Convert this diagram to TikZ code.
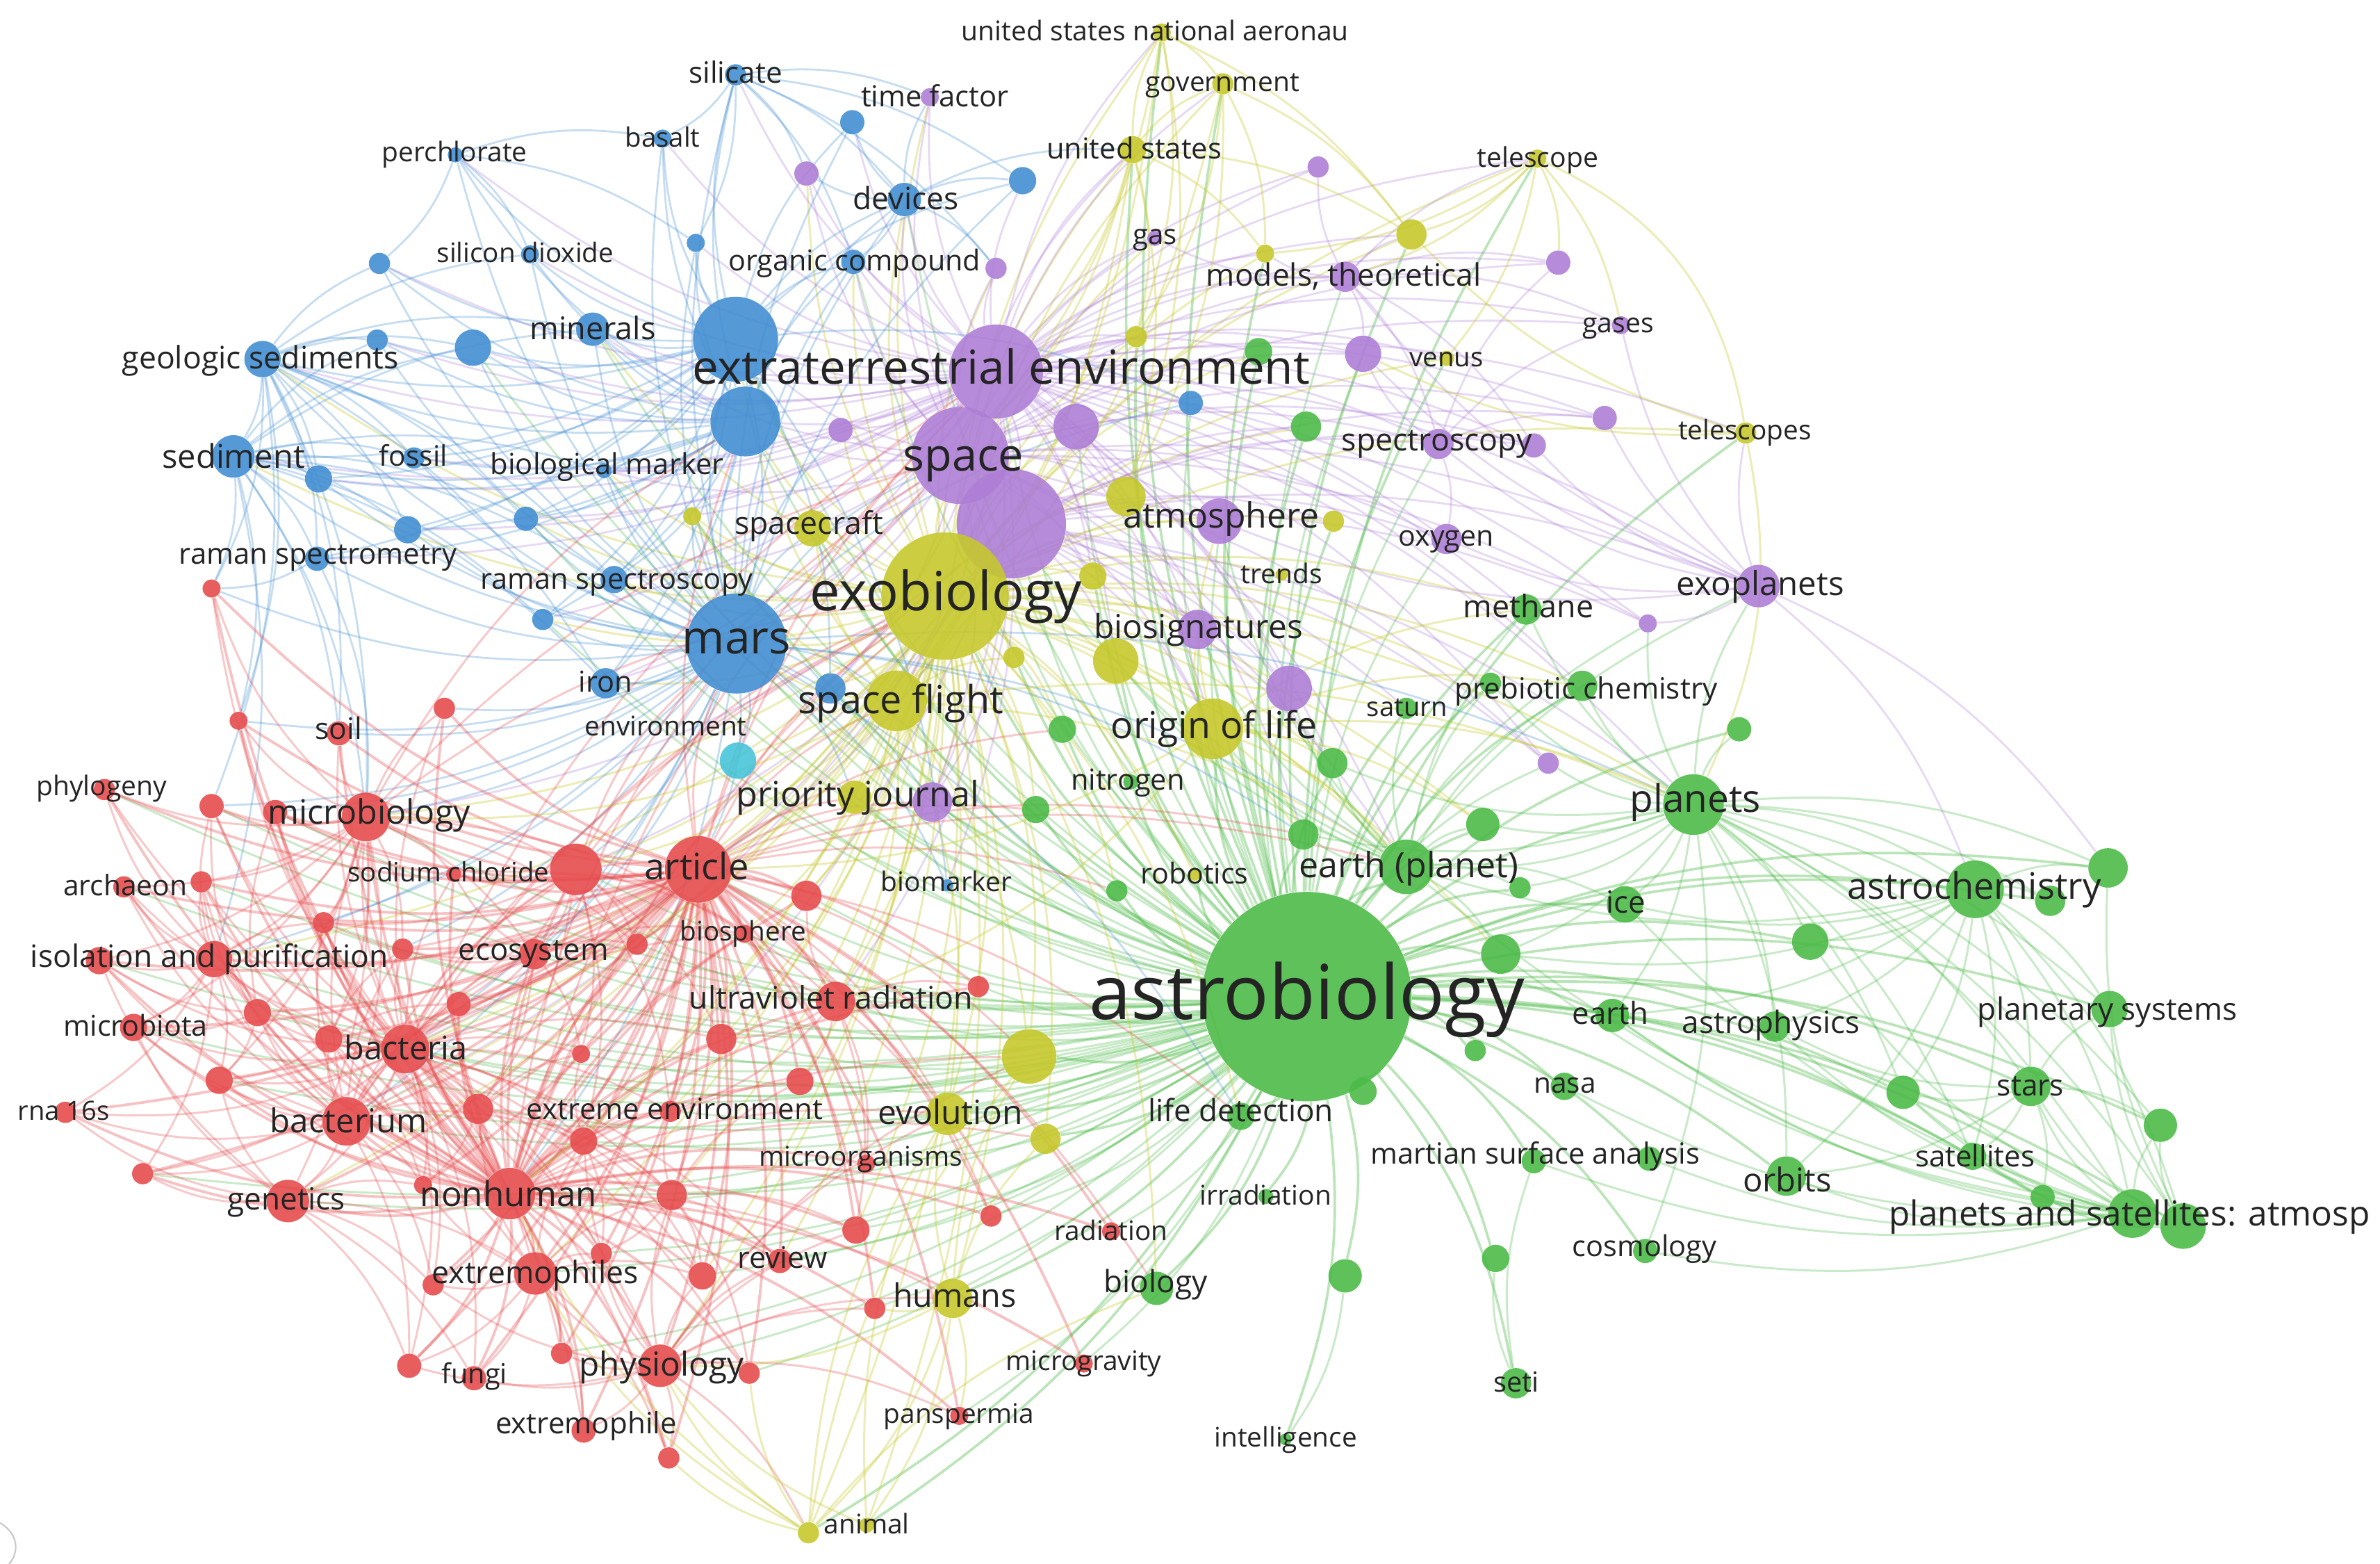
\documentclass[tikz,border=0pt]{standalone}
\usepackage{graphicx}
\usepackage{fontspec}
\setmainfont{Open Sans}
\pgfdeclarelayer{bg}
\pgfsetlayers{bg,main}
\definecolor{cR}{RGB}{230,76,78}
\definecolor{cG}{RGB}{76,186,72}
\definecolor{cB}{RGB}{66,142,210}
\definecolor{cY}{RGB}{198,200,44}
\definecolor{cP}{RGB}{174,126,214}
\definecolor{cC}{RGB}{72,196,216}
\definecolor{labc}{RGB}{36,36,36}
\tikzset{
 kw/.style={circle, inner sep=0pt, draw=none, fill opacity=0.9},
 lbl/.style={inner sep=0pt, anchor=center, text=labc},
 cv/.style={bend left=14},
 eR/.style={draw=cR, line width=0.85pt, draw opacity=0.3},
 eRh/.style={draw=cR, line width=1.1pt, draw opacity=0.34},
 eG/.style={draw=cG, line width=0.85pt, draw opacity=0.3},
 eGh/.style={draw=cG, line width=1.05pt, draw opacity=0.38},
 eB/.style={draw=cB, line width=0.8pt, draw opacity=0.3},
 eY/.style={draw=cY, line width=0.85pt, draw opacity=0.34},
 eP/.style={draw=cP, line width=0.8pt, draw opacity=0.3},
}
\newlength\pxu
\setlength\pxu{0.0218431cm}
\newcommand\kn[5]{\node[kw, fill=#5, minimum size=#4*0.0436862cm] (#1) at (#2,#3) {};}
\newcommand\lab[5]{\node[lbl] (#1) at (#2,#3) {\resizebox{#4\pxu}{!}{\rule[-0.15em]{0pt}{0.95em}#5}};}
\begin{document}
\begin{tikzpicture}[x=0.0218431cm, y=-0.0218431cm]
\useasboundingbox (0,0) rectangle (1568,1030);
% ---------------- blue
\kn{b1}{484.6}{49.3}{7}{cB}
\kn{b2}{561.5}{80.5}{8}{cB}
\kn{b3}{436.5}{91.3}{6}{cB}
\kn{b4}{300}{102}{5}{cB}
\kn{b5}{458.4}{160}{6}{cB}
\kn{b6}{250}{173.5}{7}{cB}
\kn{b7}{349.2}{167.5}{6}{cB}
\kn{b8}{248.5}{224}{7}{cB}
\kn{b9}{173}{236.5}{12}{cB}
\kn{b10}{311.6}{229}{12}{cB}
\kn{b11}{390.5}{216.8}{11}{cB}
\kn{b12}{484.6}{223.4}{28}{cB}
\kn{b13}{491}{277.6}{23}{cB}
\kn{b14}{153.8}{300.6}{14}{cB}
\kn{b15}{209.9}{315.4}{9}{cB}
\kn{b16}{272.7}{301.6}{7}{cB}
\kn{b17}{398}{310}{5}{cB}
\kn{b18}{268.6}{348.9}{9}{cB}
\kn{b19}{346.5}{341.7}{8}{cB}
\kn{b20}{208.9}{368}{8}{cB}
\kn{b21}{404.6}{381.7}{9}{cB}
\kn{b22}{357.6}{408}{7}{cB}
\kn{b23}{485.2}{423.8}{33}{cB}
\kn{b24}{399}{450}{10}{cB}
\kn{b25}{595.8}{131.4}{11}{cB}
\kn{b26}{673.7}{119}{9}{cB}
\kn{b27}{562.2}{172.5}{8}{cB}
\kn{b28}{784.5}{265.4}{8}{cB}
\kn{b29}{547.1}{453.4}{10}{cB}
\kn{b30}{624}{583}{4}{cB}
\kn{c1}{486.2}{501}{12}{cC}
% ---------------- purple
\kn{p1}{612.6}{64}{6}{cP}
\kn{p2}{531.3}{114.3}{8}{cP}
\kn{p3}{760.8}{157}{5}{cP}
\kn{p4}{868.4}{110}{7}{cP}
\kn{p5}{656.2}{176.7}{7}{cP}
\kn{p6}{886.2}{182.3}{10}{cP}
\kn{p7}{1026.6}{173}{8}{cP}
\kn{p8}{898}{233}{12}{cP}
\kn{p9}{1067.9}{214.2}{6}{cP}
\kn{p10}{656.2}{244.7}{31}{cP}
\kn{p11}{553.8}{283.2}{8}{cP}
\kn{p12}{709}{281}{15}{cP}
\kn{p13}{632.7}{300}{32}{cP}
\kn{p14}{666.3}{345}{36}{cP}
\kn{p15}{947.7}{292.4}{10}{cP}
\kn{p16}{1010.5}{293.4}{8}{cP}
\kn{p17}{1057.2}{275.3}{8}{cP}
\kn{p18}{803.3}{343.3}{15}{cP}
\kn{p19}{953}{355}{10}{cP}
\kn{p20}{1158.5}{386}{14}{cP}
\kn{p21}{1085.6}{410.6}{6}{cP}
\kn{p22}{788.9}{414.6}{13}{cP}
\kn{p23}{849.3}{453.4}{15}{cP}
\kn{p24}{1020}{502.6}{7}{cP}
\kn{p25}{614.2}{528.2}{13}{cP}
% ---------------- yellow
\kn{y1}{765.4}{21.4}{6}{cY}
\kn{y2}{805.6}{55.2}{7}{cY}
\kn{y3}{746.2}{98.6}{9}{cY}
\kn{y4}{1012.8}{104.5}{6}{cY}
\kn{y5}{833.5}{167}{6}{cY}
\kn{y6}{929.9}{154.4}{10}{cY}
\kn{y7}{748.6}{221.7}{7}{cY}
\kn{y8}{953}{236}{5}{cY}
\kn{y9}{1150.1}{285.2}{7}{cY}
\kn{y10}{535.3}{348}{12}{cY}
\kn{y11}{456}{340}{6}{cY}
\kn{y12}{741.8}{326.9}{13}{cY}
\kn{y13}{878.5}{343.3}{7}{cY}
\kn{y14}{844.3}{378.5}{4}{cY}
\kn{y15}{622.6}{392.6}{42}{cY}
\kn{y16}{720}{379.4}{9}{cY}
\kn{y17}{668}{433}{7}{cY}
\kn{y18}{735.1}{435.3}{15}{cY}
\kn{y19}{590.7}{461.6}{20}{cY}
\kn{y20}{799}{480}{20}{cY}
\kn{y21}{563}{525}{11}{cY}
\kn{y22}{678}{695.8}{18}{cY}
\kn{y23}{624.3}{733.6}{14}{cY}
\kn{y24}{688.8}{750}{10}{cY}
\kn{y25}{627.7}{855.1}{13}{cY}
\kn{y26}{532.6}{1009.5}{7}{cY}
\kn{y27}{571}{1004.5}{5}{cY}
\kn{y28}{787}{576}{4}{cY}
% ---------------- green
\kn{g1}{861}{656.4}{69}{cG}
\kn{g2}{926.5}{570.9}{18}{cG}
\kn{g3}{1001.4}{584.7}{7}{cG}
\kn{g4}{1005.5}{401.4}{10}{cG}
\kn{g5}{982}{450}{7}{cG}
\kn{g6}{1042.4}{451.7}{10}{cG}
\kn{g7}{926.5}{466.5}{7}{cG}
\kn{g8}{699.9}{480.3}{9}{cG}
\kn{g9}{877.8}{502.6}{10}{cG}
\kn{g10}{682.4}{533.2}{9}{cG}
\kn{g11}{858.7}{549.6}{10}{cG}
\kn{g12}{976.9}{543}{11}{cG}
\kn{g13}{735.8}{586.7}{7}{cG}
\kn{g14}{988.7}{628.4}{13}{cG}
\kn{g15}{971.9}{691.9}{7}{cG}
\kn{g16}{817.4}{735.2}{9}{cG}
\kn{g17}{898}{718.8}{9}{cG}
\kn{g18}{1030.6}{715.5}{9}{cG}
\kn{g19}{1010.5}{764.8}{8}{cG}
\kn{g20}{834}{788}{5}{cG}
\kn{g21}{985.3}{828.8}{9}{cG}
\kn{g22}{886.2}{840.3}{11}{cG}
\kn{g23}{762}{848.5}{11}{cG}
\kn{g24}{998.7}{911}{10}{cG}
\kn{g25}{847}{948}{4}{cG}
\kn{g26}{1115.7}{529.9}{20}{cG}
\kn{g27}{1145.8}{480.3}{8}{cG}
\kn{g28}{1301.2}{585.7}{19}{cG}
\kn{g29}{1350.7}{593.3}{10}{cG}
\kn{g30}{1388.8}{571.6}{13}{cG}
\kn{g31}{1070.5}{595.6}{12}{cG}
\kn{g32}{1192.6}{620.2}{12}{cG}
\kn{g33}{1062.2}{668.8}{11}{cG}
\kn{g34}{1169.2}{676.1}{10}{cG}
\kn{g35}{1389.8}{664.6}{12}{cG}
\kn{g36}{1253.8}{719.4}{11}{cG}
\kn{g37}{1338}{715.5}{13}{cG}
\kn{g38}{1423.3}{741.1}{11}{cG}
\kn{g39}{1086.6}{763.1}{8}{cG}
\kn{g40}{1176.9}{774.6}{13}{cG}
\kn{g41}{1299.6}{761.5}{9}{cG}
\kn{g42}{1345.7}{788.4}{8}{cG}
\kn{g43}{1404.9}{799.3}{16}{cG}
\kn{g44}{1438.3}{807.5}{15}{cG}
\kn{g45}{1083.9}{823.9}{8}{cG}
\kn{g46}{829.2}{231.6}{9}{cG}
\kn{g47}{860.4}{281}{10}{cG}
\kn{g48}{745}{515}{5}{cG}
% ---------------- red
\kn{r1}{68.8}{520}{7}{cR}
\kn{r2}{139.4}{530.9}{8}{cR}
\kn{r3}{181.3}{534.8}{8}{cR}
\kn{r4}{241.1}{538.1}{16}{cR}
\kn{r5}{81.6}{584.1}{7}{cR}
\kn{r6}{132.6}{580.8}{7}{cR}
\kn{r7}{298.9}{575.9}{5}{cR}
\kn{r8}{379.4}{572.6}{17}{cR}
\kn{r9}{460}{572.6}{22}{cR}
\kn{r10}{213.2}{607.7}{7}{cR}
\kn{r11}{419.7}{621.9}{7}{cR}
\kn{r12}{490.3}{615}{6}{cR}
\kn{r13}{65.5}{632.7}{9}{cR}
\kn{r14}{141}{631.7}{12}{cR}
\kn{r15}{265.3}{625.1}{7}{cR}
\kn{r16}{351.9}{628.4}{10}{cR}
\kn{r17}{302.2}{661.3}{8}{cR}
\kn{r18}{169.6}{666.9}{9}{cR}
\kn{r19}{88}{676.7}{9}{cR}
\kn{r20}{216.6}{684.3}{9}{cR}
\kn{r21}{267}{690.9}{16}{cR}
\kn{r22}{382.8}{694.1}{6}{cR}
\kn{r23}{475.2}{684.3}{10}{cR}
\kn{r24}{144.4}{711.5}{9}{cR}
\kn{r25}{43}{732.6}{7}{cR}
\kn{r26}{228.3}{738.5}{16}{cR}
\kn{r27}{315}{730.3}{10}{cR}
\kn{r28}{441.6}{731.9}{7}{cR}
\kn{r29}{384.5}{751.6}{9}{cR}
\kn{r30}{94}{773}{7}{cR}
\kn{r31}{189.7}{791}{14}{cR}
\kn{r32}{335.8}{786.1}{17}{cR}
\kn{r33}{278.7}{780.5}{6}{cR}
\kn{r34}{442.6}{787.1}{10}{cR}
\kn{r35}{396.2}{825.5}{7}{cR}
\kn{r36}{352.6}{838.7}{14}{cR}
\kn{r37}{285.4}{846.2}{7}{cR}
\kn{r38}{462.7}{840.3}{9}{cR}
\kn{r39}{513.8}{830.5}{8}{cR}
\kn{r40}{269.6}{899.5}{8}{cR}
\kn{r41}{312.3}{907.7}{8}{cR}
\kn{r42}{370}{891.3}{7}{cR}
\kn{r43}{434.9}{899.5}{14}{cR}
\kn{r44}{493.6}{904.4}{7}{cR}
\kn{r45}{384.5}{942.2}{8}{cR}
\kn{r46}{440.6}{960.2}{7}{cR}
\kn{r47}{139.4}{387.6}{6}{cR}
\kn{r48}{292.8}{466.5}{7}{cR}
\kn{r49}{157.2}{474.7}{6}{cR}
\kn{r50}{223.3}{483}{8}{cR}
\kn{r51}{531.3}{590}{10}{cR}
\kn{r52}{644.5}{649.8}{7}{cR}
\kn{r53}{550.4}{659.6}{13}{cR}
\kn{r54}{527}{712.2}{9}{cR}
\kn{r55}{570.6}{766.4}{6}{cR}
\kn{r56}{652.9}{800.9}{7}{cR}
\kn{r57}{563.9}{810.1}{9}{cR}
\kn{r58}{732}{811}{6}{cR}
\kn{r59}{576.3}{861.7}{7}{cR}
\kn{r60}{714}{898}{6}{cR}
\kn{r61}{632}{932.5}{6}{cR}
% ---------------- edges
\begin{pgfonlayer}{bg}
% astrobiology
\foreach \i in {2,...,48} \draw[eGh] (g1) to[cv] (g\i);
\foreach \i in {1,...,28} \draw[eGh] (g1) to[cv] (y\i);
\foreach \i in {1,2,3,4,5,6,8,9,10,11,12,13,14,16,17,18,19,20,21,22,23,24,26,27,28,29,30,31,32,34,35,36,38,39,42,43,44,51,52,53,54,55,56,57,58,59,60,61} \draw[eG] (g1) to[cv] (r\i);
\foreach \i in {6,8,10,12,13,14,15,18,19,20,21,22,23,24,25} \draw[eG] (g1) to[cv] (p\i);
\foreach \i in {10,11,12,13,17,19,21,22,23,24,25,27,28,29,30} \draw[eG] (g1) to[cv] (b\i);
\draw[eG] (g1) to[cv] (c1);
% exobiology
\foreach \i in {1,...,14} \draw[eY] (y15) to[cv] (y\i);
\foreach \i in {16,...,28} \draw[eY] (y15) to[cv] (y\i);
\foreach \i in {4,8,9,11,12,14,16,21,23,26,28,31,32,34,36,38,39,43,51,53,54,57} \draw[eY] (y15) to[cv] (r\i);
\foreach \i in {2,4,5,6,7,8,9,10,11,12,13,14,16,23,26,46,47,48} \draw[eY] (y15) to[cv] (g\i);
\foreach \i in {1,2,3,5,10,11,12,13,14,18,22,23,25} \draw[eY] (y15) to[cv] (p\i);
\foreach \i in {9,11,12,13,14,17,19,21,22,23,24,25,27,29} \draw[eY] (y15) to[cv] (b\i);
\draw[eY] (y15) to[cv] (c1);
% extraterrestrial environment / space
\foreach \i in {1,...,9} \draw[eP] (p10) to[cv] (p\i);
\foreach \i in {11,...,25} \draw[eP] (p10) to[cv] (p\i);
\foreach \i in {1,...,30} \draw[eP] (p10) to[cv] (b\i);
\foreach \i in {1,2,3,4,5,6,7,8,9,10,11,12,16,18,19,20} \draw[eP] (p10) to[cv] (y\i);
\foreach \i in {2,4,6,9,11,26,46,47} \draw[eP] (p10) to[cv] (g\i);
\foreach \i in {1,...,12} \draw[eP] (p13) to[cv] (p\i);
\foreach \i in {14,...,25} \draw[eP] (p13) to[cv] (p\i);
\foreach \i in {11,12,13,17,21,23,24,25,27,29} \draw[eP] (p13) to[cv] (b\i);
\foreach \i in {3,7,10,12,16,19,20} \draw[eP] (p13) to[cv] (y\i);
\foreach \i in {15,...,25} \draw[eP] (p14) to[cv] (p\i);
\foreach \i in {12,13,16,18,20} \draw[eP] (p14) to[cv] (y\i);
\foreach \i in {2,7,9,26,47} \draw[eP] (p14) to[cv] (g\i);
\foreach \i in {4,8,9,21,26,32,53} \draw[eP] (p14) to[cv] (r\i);
\foreach \i in {15,16,17,19,21,9,8,18,6} \draw[eP] (p20) to[cv] (p\i);
\foreach \i in {28,30} \draw[eP] (p20) to[cv] (g\i);
\draw[eP] (p20) to[cv] (y9);
\foreach \i in {3,4,7,8,9,15,16} \draw[eP] (p6) to[cv] (p\i);
\foreach \i in {4,5,6} \draw[eP] (p6) to[cv] (y\i);
\foreach \i in {16,17,19,9,7,8} \draw[eP] (p15) to[cv] (p\i);
% mars and blue
\foreach \i in {1,...,22} \draw[eB] (b23) to[cv] (b\i);
\foreach \i in {24,...,30} \draw[eB] (b23) to[cv] (b\i);
\draw[eB] (b23) to[cv] (c1);
\foreach \i in {2,3,4,8,9,10,14,15,16,21,26,32,47,48,49,50} \draw[eB] (b23) to[cv] (r\i);
\foreach \i in {10,11,19,21} \draw[eB] (b23) to[cv] (y\i);
\foreach \i in {11,13,25} \draw[eB] (b23) to[cv] (p\i);
\foreach \i in {2,11,16,26} \draw[eB] (b23) to[cv] (g\i);
\foreach \i in {1,...,11} \draw[eB] (b12) to[cv] (b\i);
\foreach \i in {13,...,30} \draw[eB] (b12) to[cv] (b\i);
\foreach \i in {1,3,4,5,6,7,8,9,10,11,14,15,16,17,18,19,20,21,22,24,25,27} \draw[eB] (b13) to[cv] (b\i);
\foreach \i in {6,7,8,10,11,14,15,16,18,19,20,21,24} \draw[eB] (b9) to[cv] (b\i);
\foreach \i in {2,4,47,49,50} \draw[eB] (b9) to[cv] (r\i);
\foreach \i in {8,10,11,15,16,17,18,19,20,21,22,24} \draw[eB] (b14) to[cv] (b\i);
\foreach \i in {4,14,47,49,50} \draw[eB] (b14) to[cv] (r\i);
\foreach \i in {4,47} \draw[eB] (b20) to[cv] (r\i);
\foreach \i in {3,5,25,26,27} \draw[eB] (b1) to[cv] (b\i);
\foreach \i in {1,2,5} \draw[eB] (b1) to[cv] (p\i);
\foreach \i in {3,5,6,7} \draw[eB] (b4) to[cv] (b\i);
\foreach \i in {2,26,27} \draw[eB] (b25) to[cv] (b\i);
\foreach \i in {1,2,5} \draw[eB] (b25) to[cv] (p\i);
\draw[eB] (b25) to[cv] (y3);
% red
\foreach \i in {1,...,8,10,11,...,61} \draw[eRh] (r9) to[cv] (r\i);
\foreach \i in {1,...,31,33,34,...,61} \draw[eRh] (r32) to[cv] (r\i);
\foreach \i in {1,...,20,22,23,...,50} \draw[eR] (r21) to[cv] (r\i);
\foreach \i in {1,2,3,5,6,7,8,10,11,12,13,14,15,16,18,19,20,24,26,31,47,48,49,50} \draw[eR] (r4) to[cv] (r\i);
\foreach \i in {4,5,6,8,10,13,14,15,16,17,18,19,20,24,25,27,29,30,31,33,36,37,40} \draw[eR] (r26) to[cv] (r\i);
\foreach \i in {3,7,10,11,12,15,16,17,22,23,27,28,29,51,53} \draw[eR] (r8) to[cv] (r\i);
\foreach \i in {1,2,5,6,10,13,18,19,24,25,30} \draw[eR] (r14) to[cv] (r\i);
\foreach \i in {13,19,24,25,30,33,36,37,40,41} \draw[eR] (r31) to[cv] (r\i);
\foreach \i in {29,34,35,36,37,38,39,40,41,42,44,45,46,57,59,61} \draw[eR] (r43) to[cv] (r\i);
\foreach \i in {27,29,33,34,35,37,38,40,41,42,45,46} \draw[eR] (r36) to[cv] (r\i);
\foreach \i in {12,23,28,51,52,54,55,56,57} \draw[eR] (r53) to[cv] (r\i);
\foreach \i in {7,10,11,12,15,17,22,27} \draw[eR] (r16) to[cv] (r\i);
\foreach \i in {2,3,6,13,19,20,24} \draw[eR] (r18) to[cv] (r\i);
\foreach \i in {10,15,17,24,27,33} \draw[eR] (r20) to[cv] (r\i);
\foreach \i in {17,22,29,33,34} \draw[eR] (r27) to[cv] (r\i);
\foreach \i in {22,28,34,35,38} \draw[eR] (r29) to[cv] (r\i);
\foreach \i in {28,35,38,39,44,54,57} \draw[eR] (r34) to[cv] (r\i);
\foreach \i in {15,19,21,22,23} \draw[eR] (r9) to[cv] (y\i);
\foreach \i in {13,23} \draw[eR] (r9) to[cv] (b\i);
\foreach \i in {10,13,25} \draw[eR] (r9) to[cv] (p\i);
\foreach \i in {2,8,10,11,13,16,23} \draw[eR] (r9) to[cv] (g\i);
\foreach \i in {15,22,23,24,25} \draw[eR] (r32) to[cv] (y\i);
\draw[eR] (r32) to[cv] (p10);
\draw[eR] (r32) to[cv] (p14);
\draw[eR] (r32) to[cv] (b23);
\draw[eR] (r21) to[cv] (y15);
\draw[eR] (r21) to[cv] (p10);
\draw[eR] (r4) to[cv] (y15);
\draw[eR] (r4) to[cv] (b13);
\draw[eR] (r4) to[cv] (p13);
\draw[eR] (r8) to[cv] (y15);
\draw[eR] (r8) to[cv] (b23);
\draw[eR] (r8) to[cv] (p13);
\draw[eR] (r26) to[cv] (y15);
\foreach \i in {22,23,25,26} \draw[eR] (r43) to[cv] (y\i);
% yellow local
\foreach \i in {1,2,5,6,7,12,19} \draw[eY] (y3) to[cv] (y\i);
\foreach \i in {10,13} \draw[eY] (y3) to[cv] (p\i);
\foreach \i in {2,6,7,12,19} \draw[eY] (y1) to[cv] (y\i);
\draw[eY] (y1) to[cv] (p13);
\foreach \i in {5,6,7,12,19} \draw[eY] (y2) to[cv] (y\i);
\foreach \i in {5,6,8} \draw[eY] (y4) to[cv] (y\i);
\foreach \i in {6,7,9} \draw[eY] (y4) to[cv] (p\i);
\draw[eY] (y4) to[bend left=28] (y9);
\draw[eY] (y9) to[bend left=18] (g26);
\draw[eY] (y9) to[cv] (y6);
\draw[eY] (y9) to[cv] (p8);
\foreach \i in {22,23,24,26,27} \draw[eY] (y25) to[cv] (y\i);
\foreach \i in {43,59,61} \draw[eY] (y25) to[cv] (r\i);
\foreach \i in {22,23} \draw[eY] (y26) to[cv] (y\i);
\foreach \i in {32,36,43,44,46} \draw[eY] (y26) to[cv] (r\i);
\draw[eY] (y26) to[cv] (g23);
\draw[eY] (y27) to[cv] (y23);
\draw[eY] (y27) to[cv] (r43);
\foreach \i in {10,11,17,21,22,23} \draw[eY] (y19) to[cv] (y\i);
\foreach \i in {4,8,9,21,32,51,53} \draw[eY] (y19) to[cv] (r\i);
\foreach \i in {12,23} \draw[eY] (y19) to[cv] (b\i);
\foreach \i in {2,26} \draw[eY] (y19) to[cv] (g\i);
\foreach \i in {2,4,6,9,11,12,26} \draw[eY] (y20) to[cv] (g\i);
\foreach \i in {9,53} \draw[eY] (y20) to[cv] (r\i);
\foreach \i in {18,22} \draw[eY] (y20) to[cv] (p\i);
% green local
\foreach \i in {2,3,4,5,6,9,11,12,14,27,28,29,30,31,32,33,34,35,36,37,38,40,41,43,44,45} \draw[eG] (g26) to[cv] (g\i);
\foreach \i in {20,21,24} \draw[eG] (g26) to[cv] (p\i);
\foreach \i in {2,14,29,30,31,32,33,34,35,36,37,40,41,43,44} \draw[eG] (g28) to[cv] (g\i);
\foreach \i in {2,14,18,19,31,32,33,34,36,37,38,39,40,41,42,45} \draw[eG] (g43) to[cv] (g\i);
\foreach \i in {30,33,35,36,37,38,41,42} \draw[eG] (g44) to[cv] (g\i);
\foreach \i in {34,35,36,38,40,41,42} \draw[eG] (g37) to[cv] (g\i);
\foreach \i in {3,4,5,6,7,9,11,12,14,31} \draw[eG] (g2) to[cv] (g\i);
\foreach \i in {14,18,22,23} \draw[eG] (g2) to[cv] (p\i);
\foreach \i in {18,20} \draw[eG] (g2) to[cv] (y\i);
\draw[eG] (g24) to[cv] (g21);
\draw[eG] (g24) to[cv] (g19);
\draw[eG] (g22) to[cv] (g25);
\end{pgfonlayer}
% faint arc in the lower left corner
\draw[black!22, line width=0.6pt] (0,1003) .. controls (12,1010) and (13,1022) .. (6,1030);
% ---------------- labels
\lab{Lsilicate}{484.6}{48.5}{61.5}{silicate}
\lab{Ltime}{616}{64}{97.4}{time factor}
\lab{Lbasalt}{436.5}{91}{49.4}{basalt}
\lab{Lperch}{299.5}{101.5}{95.7}{perchlorate}
\lab{Ldevices}{596.8}{131.4}{69.5}{devices}
\lab{Lsio}{346.1}{167}{116.5}{silicon dioxide}
\lab{Lorg}{563}{173}{166}{organic compound}
\lab{Lmin}{390.5}{217}{83}{minerals}
\lab{Lgeo}{171.6}{237}{182.3}{geologic sediments}
\lab{Lee}{659.5}{243}{407}{extraterrestrial environment}
\lab{Lsed}{153.8}{301.5}{94}{sediment}
\lab{Lfossil}{272.3}{301}{44.7}{fossil}
\lab{Lbm}{400}{307}{153.8}{biological marker}
\lab{Lrsm}{209.5}{366}{183}{raman spectrometry}
\lab{Lrsc}{406.3}{382.5}{179.6}{raman spectroscopy}
\lab{Lmars}{485.3}{421}{71.5}{mars}
\lab{Liron}{399}{449.5}{35.3}{iron}
\lab{Lenv}{438.6}{479}{106.8}{environment}
\lab{Lbiomk}{623.6}{581.5}{86.3}{biomarker}
\lab{Lgas}{760.8}{156}{29}{gas}
\lab{Lmodels}{885.2}{182}{181}{models, theoretical}
\lab{Lvenus}{953}{236}{48.7}{venus}
\lab{Lgases}{1066}{214}{47}{gases}
\lab{Lspace}{634.7}{302}{79.6}{space}
\lab{Lspec}{946.7}{291}{125.6}{spectroscopy}
\lab{Latm}{804.6}{341.5}{129.3}{atmosphere}
\lab{Loxy}{952.7}{354.5}{62.8}{oxygen}
\lab{Lexop}{1159.8}{386}{110.3}{exoplanets}
\lab{Lbiosig}{789.5}{414.5}{137.7}{biosignatures}
\lab{Lusna}{761}{21}{255}{united states national aeronau}
\lab{Lgov}{805.3}{55}{101.4}{government}
\lab{Lus}{747.2}{98.5}{115.2}{united states}
\lab{Ltel}{1013}{105}{80}{telescope}
\lab{Ltels}{1149.5}{284.5}{87.6}{telescopes}
\lab{Lsc}{533}{346}{98}{spacecraft}
\lab{Lexo}{623}{392}{179}{exobiology}
\lab{Ltrends}{844.3}{378.5}{53.7}{trends}
\lab{Lsf}{593.4}{463}{135.3}{space flight}
\lab{Lool}{799.9}{479.5}{136}{origin of life}
\lab{Lpj}{565}{525}{160}{priority journal}
\lab{Levo}{626}{733.5}{95.4}{evolution}
\lab{Lhum}{629}{854}{81.3}{humans}
\lab{Lanimal}{571}{1004.5}{56.4}{animal}
\lab{Lrob}{786.9}{576}{71.2}{robotics}
\lab{Lastro}{861}{657.5}{286.8}{astrobiology}
\lab{Lep}{928.2}{571.5}{144.4}{earth (planet)}
\lab{Lmeth}{1007}{400}{86}{methane}
\lab{Lpre}{1045}{455}{173}{prebiotic chemistry}
\lab{Lsat}{927}{466}{53}{saturn}
\lab{Lnit}{743}{515}{75}{nitrogen}
\lab{Lplanets}{1117}{528}{86.3}{planets}
\lab{Lachem}{1300.6}{585.5}{167.2}{astrochemistry}
\lab{Lice}{1071}{595}{26}{ice}
\lab{Learth}{1061}{668}{50}{earth}
\lab{Laphys}{1166.8}{675}{117}{astrophysics}
\lab{Lpsys}{1388.5}{666}{171.2}{planetary systems}
\lab{Lnasa}{1031}{714}{41}{nasa}
\lab{Lstars}{1337.7}{715.5}{44.1}{stars}
\lab{Lld}{817.4}{732}{122.2}{life detection}
\lab{Lmsa}{1011.5}{761}{217}{martian surface analysis}
\lab{Lsats}{1301.2}{762}{78.9}{satellites}
\lab{Lorbits}{1177.5}{778}{58.5}{orbits}
\lab{Lirr}{833.9}{788}{86.6}{irradiation}
\lab{Lpsa}{1402.9}{801}{317}{planets and satellites: atmosp}
\lab{Lcosmo}{1083.5}{822}{95}{cosmology}
\lab{Lbio}{761.3}{845.5}{68.2}{biology}
\lab{Lseti}{999}{911}{30}{seti}
\lab{Lint}{847}{948}{94}{intelligence}
\lab{Lsoil}{223}{480.5}{31}{soil}
\lab{Lphylo}{67}{519}{86}{phylogeny}
\lab{Lmicro}{243.1}{536.5}{133.6}{microbiology}
\lab{Larch}{82.6}{584}{81.6}{archaeon}
\lab{Lnacl}{295.5}{575}{132.6}{sodium chloride}
\lab{Larticle}{459}{571.5}{68.8}{article}
\lab{Lbiosph}{489.5}{614.5}{83}{biosphere}
\lab{Liso}{138}{631.5}{235.7}{isolation and purification}
\lab{Leco}{351.6}{627}{99}{ecosystem}
\lab{Luv}{547.5}{658}{187}{ultraviolet radiation}
\lab{Lmbiota}{89.3}{676}{95}{microbiota}
\lab{Lbacteria}{267.3}{691}{81}{bacteria}
\lab{Lrna}{42}{732}{60.4}{rna 16s}
\lab{Lbacterium}{229.7}{739}{103.4}{bacterium}
\lab{Lxenv}{444.5}{731}{195}{extreme environment}
\lab{Lmorg}{567}{763}{134}{microorganisms}
\lab{Lgen}{188.7}{791}{77.6}{genetics}
\lab{Lnonh}{335.1}{787}{116.5}{nonhuman}
\lab{Lreview}{515.5}{829}{59}{review}
\lab{Lxphiles}{352.6}{839.5}{136}{extremophiles}
\lab{Lrad}{732.1}{811}{74.5}{radiation}
\lab{Lfungi}{312.6}{906}{43}{fungi}
\lab{Lphys}{435.9}{900}{108.5}{physiology}
\lab{Lmgrav}{714}{897.5}{102.4}{microgravity}
\lab{Lxphile}{386.2}{939}{119.5}{extremophile}
\lab{Lpansp}{631.7}{932.5}{99}{panspermia}
\end{tikzpicture}
\end{document}
